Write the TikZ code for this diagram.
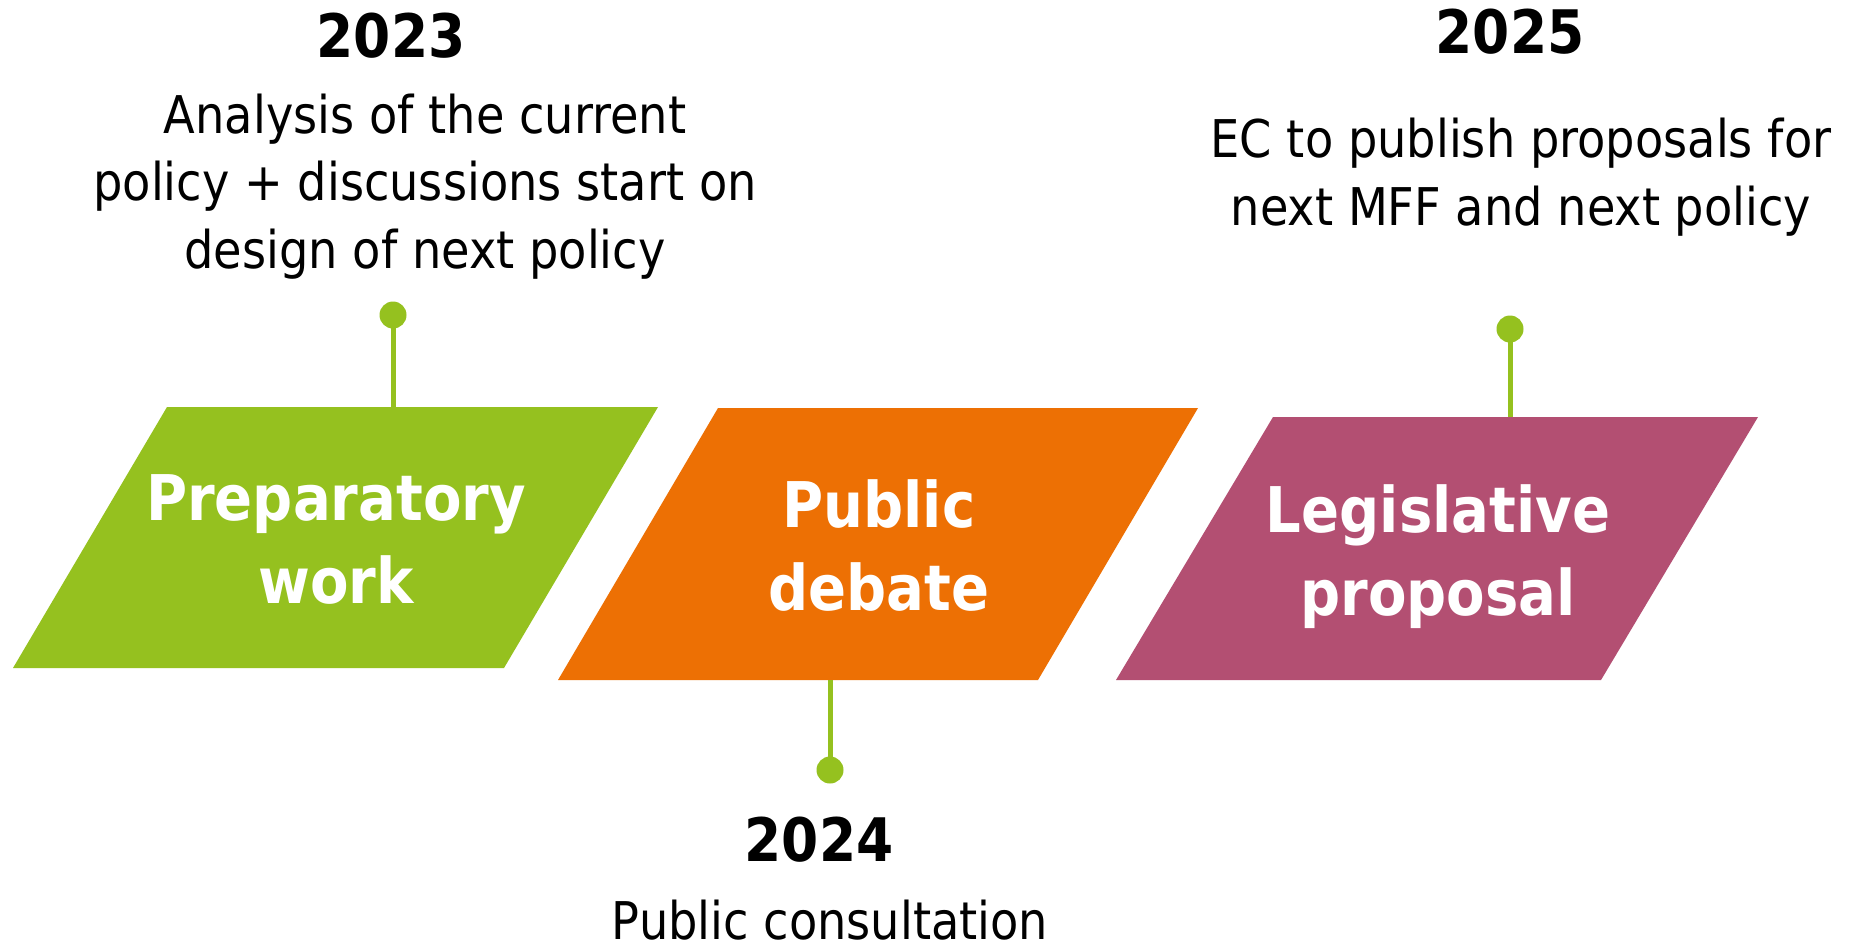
\documentclass[tikz,border=0pt]{standalone}
\usepackage{fontspec}
\setmainfont{DejaVu Sans}[FakeStretch=0.89]
\definecolor{pgreen}{HTML}{95C11F}
\definecolor{porange}{HTML}{ED7004}
\definecolor{ppurple}{HTML}{B34F72}
\begin{document}
\begin{tikzpicture}[x=1pt,y=-1pt,
  body/.style={font={\fontsize{52}{67.5}\selectfont}, align=center, inner sep=0pt, anchor=base},
  year/.style={font={\fontsize{60}{72}\selectfont\bfseries}, inner sep=0pt, anchor=base},
  label/.style={font={\fontsize{63}{82.5}\selectfont\bfseries}, text=white, align=center, inner sep=0pt, anchor=base},
  dot/.style={circle, fill=pgreen, minimum size=27pt, inner sep=0pt},
  stem/.style={draw=pgreen, line width=5pt}]
\useasboundingbox (0,0) rectangle (1854,945);
\fill[white] (0,0) rectangle (1854,945);
% shapes
\fill[pgreen] (13,668) -- (504,668) -- (658,407) -- (167,407) -- cycle;
\fill[porange] (558,680) -- (1038,680) -- (1198,408) -- (718,408) -- cycle;
\fill[ppurple] (1116,680) -- (1601,680) -- (1758,417) -- (1273,417) -- cycle;
\coordinate (gtop) at (393,407);
\coordinate (obot) at (830,680);
\coordinate (ptop) at (1510,417);
% dots
\node[dot] (d1) at (393,315) {};
\node[dot] (d2) at (830,770) {};
\node[dot] (d3) at (1510,329) {};
\draw[stem] (gtop) -- (d1.center);
\draw[stem] (obot) -- (d2.center);
\draw[stem] (ptop) -- (d3.center);
% labels (anchor = baseline of the last line)
\node[label] (l1) at (336,603) {Preparatory\\work};
\node[label] (l2) at (879,610) {Public\\debate};
\node[label] (l3) at (1438,615) {Legislative\\proposal};
% years and texts
\node[year] (y1) at (391,57) {2023};
\node[body] (t1) at (425,268) {Analysis of the current\\policy + discussions start on\\design of next policy};
\node[year] (y2) at (819,861) {2024};
\node[body, text depth=0pt] (t2) at (830,939) {Public consultation};
\node[year] (y3) at (1510,53) {2025};
\node[body] (t3) at (1521,225) {EC to publish proposals for\\next MFF and next policy};
\end{tikzpicture}
\end{document}
